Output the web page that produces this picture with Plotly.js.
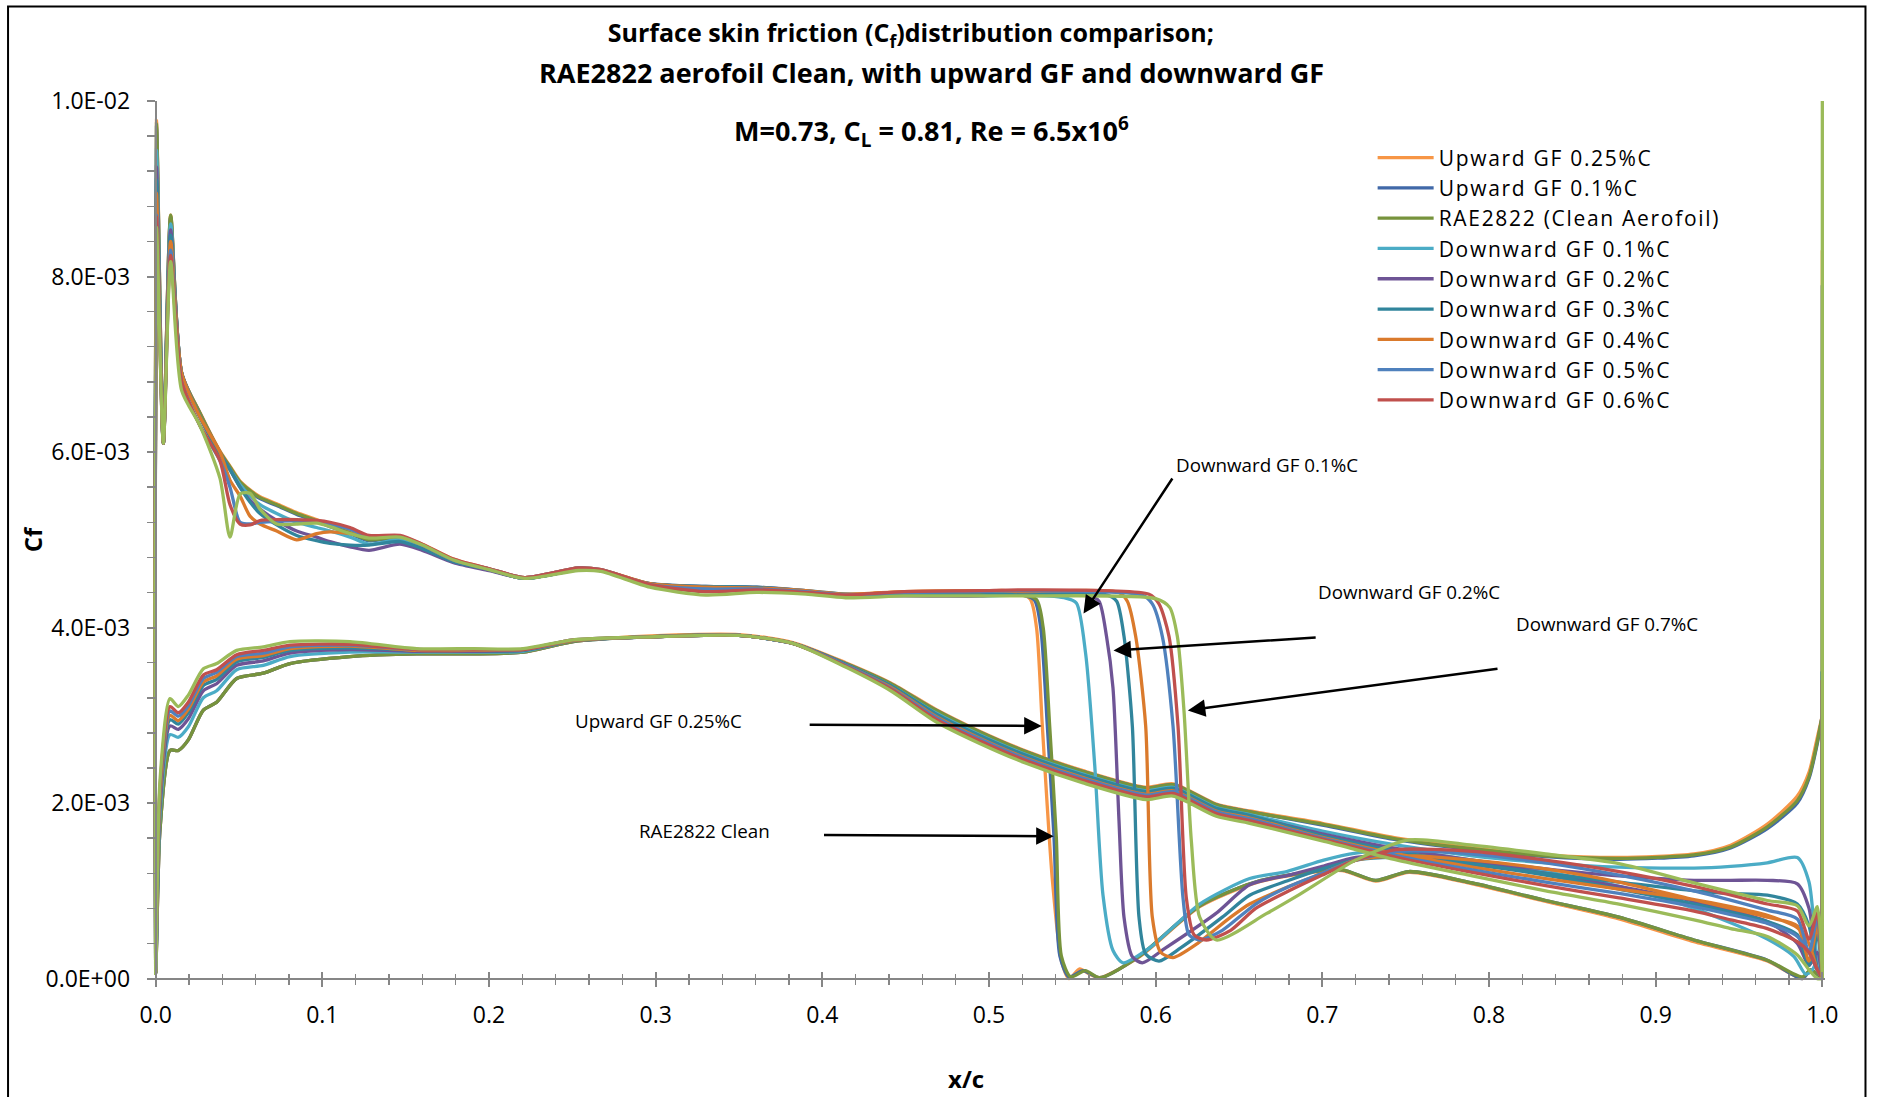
<!DOCTYPE html>
<html>
<head>
<meta charset="utf-8">
<script src="https://cdn.plot.ly/plotly-3.0.1.min.js"></script>
<style>
html,body{margin:0;padding:0;background:#fff;}
#chart{width:1878px;height:1097px;}
#chart .legendtext{letter-spacing:1.7px;}
#chart .legend .scrollbox{clip-path:none !important;}
</style>
</head>
<body>
<div id="chart"></div>
<script>
// ---------------- DATA ----------------
const SERIES_NAMES = ["Upward GF 0.25%C","Upward GF 0.1%C","RAE2822 (Clean Aerofoil)","Downward GF 0.1%C","Downward GF 0.2%C","Downward GF 0.3%C","Downward GF 0.4%C","Downward GF 0.5%C","Downward GF 0.6%C","Downward GF 0.7%C"];

// upper surface, leading-edge part (shared x stations)
const UX_FRONT = [0.0005,0.0046,0.009,0.0156,0.0266,0.0386,0.0446,0.0506,0.0566,0.0626,0.0726,0.0846,0.0966,0.1046,0.1166,0.128,0.1466,0.16,0.1787,0.2,0.2215,0.2537,0.2671,0.2965,0.33,0.3607,0.39,0.414,0.449,0.4944];
const upFront_U025  = [0.00978,0.0061,0.0087,0.0069,0.00645,0.00601,0.00584,0.00567,0.00557,0.00549,0.00541,0.00531,0.00523,0.00517,0.00509,0.00501,0.00504,0.00495,0.00478,0.00467,0.00457,0.00468,0.00466,0.0045,0.00444,0.00444,0.00441,0.00437,0.00441,0.00441];
const upFront_U01   = [0.0097,0.0061,0.00868,0.0069,0.00644,0.006,0.00582,0.00565,0.00555,0.00547,0.00539,0.00529,0.00521,0.00515,0.00507,0.00499,0.00502,0.00493,0.00476,0.00466,0.00456,0.00466,0.00465,0.00449,0.00444,0.00443,0.0044,0.00436,0.0044,0.0044];
const upFront_Clean = [0.00974,0.0061,0.0087,0.0069,0.00644,0.006,0.00583,0.00566,0.00556,0.00548,0.0054,0.0053,0.00522,0.00516,0.00508,0.005,0.00503,0.00494,0.00477,0.00466,0.00456,0.00467,0.00465,0.00448,0.00441,0.00443,0.0044,0.00436,0.0044,0.0044];
const upFront_D01   = [0.00944,0.0061,0.0086,0.0069,0.0064,0.00598,0.0058,0.00563,0.0055,0.0054,0.0053,0.0052,0.00514,0.0051,0.00503,0.00495,0.005,0.0049,0.00475,0.00466,0.00456,0.00466,0.00465,0.0045,0.00446,0.00445,0.00441,0.00438,0.00438,0.00436];
const upFront_D02   = [0.00925,0.0061,0.00853,0.0069,0.0064,0.00598,0.0058,0.0056,0.00545,0.00535,0.00522,0.0051,0.00503,0.00498,0.00492,0.00488,0.00495,0.00488,0.00474,0.00465,0.00456,0.00466,0.00465,0.0045,0.00447,0.00446,0.00442,0.00437,0.00436,0.00436];
const upFront_D03   = [0.0091,0.0061,0.00847,0.0069,0.0064,0.00598,0.0058,0.0056,0.00543,0.0053,0.00517,0.00505,0.00499,0.00496,0.00494,0.00494,0.00498,0.0049,0.00475,0.00466,0.00456,0.00466,0.00465,0.0045,0.00447,0.00446,0.00442,0.00438,0.00438,0.00437];
const upFront_D04   = [0.00895,0.0061,0.0084,0.0069,0.0064,0.006,0.00568,0.0055,0.00527,0.00518,0.0051,0.005,0.00507,0.00509,0.00507,0.00503,0.00504,0.00494,0.00477,0.00467,0.00457,0.00468,0.00466,0.0045,0.00446,0.00445,0.00442,0.00438,0.00441,0.00442];
const upFront_D05   = [0.0087,0.0061,0.0083,0.0068,0.0063,0.0059,0.0056,0.0052,0.00518,0.0052,0.00521,0.00522,0.00521,0.00518,0.00512,0.00504,0.00504,0.00494,0.00477,0.00467,0.00457,0.00468,0.00466,0.00449,0.00444,0.00444,0.00441,0.00437,0.0044,0.00441];
const upFront_D06   = [0.00868,0.0061,0.00824,0.0068,0.0063,0.0059,0.0054,0.00518,0.00517,0.00522,0.00523,0.00523,0.00522,0.0052,0.00514,0.00505,0.00505,0.00495,0.00478,0.00467,0.00457,0.00468,0.00466,0.00449,0.00441,0.00443,0.0044,0.00437,0.00441,0.00442];
const upFront_D07   = [0.00856,0.0061,0.00817,0.0067,0.0063,0.0057,0.00503,0.00552,0.00553,0.00535,0.00518,0.00518,0.00519,0.00515,0.00507,0.00502,0.00503,0.00494,0.00477,0.00466,0.00456,0.00465,0.00464,0.00446,0.00437,0.0044,0.00438,0.00434,0.00436,0.00436];

// upper surface, shock and aft part
const upAftX_U025 = [0.51,0.5245,0.5285,0.532,0.538,0.5435,0.548,0.5544,0.5604,0.5664,0.5904,0.6264,0.658,0.6864,0.712,0.732,0.752,0.79,0.834,0.878,0.923,0.967,0.988,0.993,0.997];
const upAftY_U025 = [0.00442,0.00433,0.004,0.00288,0.00113,0.0002,0.0,0.00011,0.00005,0.00001,0.00025,0.00082,0.00108,0.00119,0.00123,0.00111,0.00121,0.00108,0.00088,0.00068,0.00042,0.0002,0.0,0.0001,0.00005];
const upAftX_U01 = [0.511,0.527,0.531,0.535,0.539,0.5425,0.548,0.5564,0.5664,0.5904,0.6264,0.658,0.6864,0.712,0.732,0.752,0.79,0.834,0.878,0.923,0.967,0.988,0.993,0.997];
const upAftY_U01 = [0.0044,0.00432,0.004,0.00288,0.00161,0.00026,0.00002,0.00009,0.00001,0.00026,0.00083,0.00109,0.0012,0.00124,0.00112,0.00122,0.00109,0.00089,0.0007,0.00044,0.00021,0.0,0.0001,0.00005];
const upAftX_Clean = [0.512,0.5284,0.5325,0.5364,0.5404,0.5434,0.549,0.5578,0.5664,0.5904,0.6264,0.658,0.6864,0.712,0.732,0.752,0.79,0.834,0.878,0.923,0.967,0.988,0.993,0.997];
const upAftY_Clean = [0.00441,0.00432,0.004,0.00288,0.00161,0.00026,0.00002,0.00009,0.00001,0.00026,0.00083,0.00109,0.0012,0.00124,0.00112,0.00122,0.00109,0.00089,0.0007,0.00044,0.00021,0.00002,0.0001,0.00005];
const upAftX_D01 = [0.52,0.545,0.5524,0.558,0.5634,0.5684,0.5744,0.5804,0.5964,0.6264,0.6564,0.6786,0.7008,0.72,0.745,0.79,0.834,0.878,0.923,0.967,0.983,0.99,0.994,0.997];
const upAftY_D01 = [0.00437,0.00434,0.00428,0.0037,0.00244,0.00095,0.00032,0.00018,0.00035,0.00085,0.00114,0.00122,0.00135,0.00143,0.00146,0.00135,0.00122,0.00105,0.0008,0.00045,0.00025,0.00005,0.0001,0.0002];
const upAftX_D02 = [0.52,0.56,0.566,0.5705,0.5744,0.578,0.581,0.586,0.592,0.606,0.636,0.6564,0.68,0.7,0.72,0.745,0.79,0.834,0.878,0.923,0.967,0.985,0.992,0.997];
const upAftY_D02 = [0.00438,0.00436,0.0043,0.0039,0.00331,0.0018,0.0007,0.00025,0.00018,0.00035,0.00074,0.00107,0.00118,0.00128,0.00138,0.0014,0.00132,0.0012,0.00105,0.00088,0.00065,0.0004,0.00015,0.0003];
const upAftX_D03 = [0.52,0.571,0.5766,0.581,0.586,0.59,0.594,0.602,0.615,0.64,0.6564,0.68,0.7,0.72,0.745,0.79,0.834,0.878,0.923,0.967,0.985,0.992,0.997];
const upAftY_D03 = [0.00439,0.00437,0.0043,0.0039,0.00288,0.0007,0.00028,0.0002,0.00035,0.0007,0.00095,0.00112,0.00125,0.00135,0.00138,0.0013,0.00118,0.00102,0.00085,0.00065,0.0005,0.00015,0.0005];
const upAftX_D04 = [0.52,0.578,0.583,0.588,0.594,0.598,0.603,0.6104,0.625,0.645,0.6564,0.68,0.7,0.72,0.745,0.79,0.834,0.878,0.923,0.967,0.985,0.992,0.997];
const upAftY_D04 = [0.00441,0.0044,0.0043,0.0039,0.00288,0.0007,0.0003,0.00024,0.0004,0.0007,0.00085,0.00105,0.0012,0.00135,0.0014,0.00135,0.00125,0.0011,0.0009,0.0007,0.0006,0.0002,0.0006];
const upAftX_D05 = [0.52,0.592,0.598,0.604,0.6104,0.6164,0.62,0.6264,0.64,0.66,0.68,0.7,0.72,0.745,0.79,0.834,0.878,0.923,0.967,0.985,0.992,0.997];
const upAftY_D05 = [0.00442,0.00437,0.00427,0.0039,0.00288,0.00092,0.0005,0.00044,0.00055,0.00085,0.00105,0.0012,0.00135,0.00145,0.00142,0.00132,0.00118,0.001,0.00078,0.00068,0.0003,0.0007];
const upAftX_D06 = [0.52,0.596,0.602,0.608,0.6134,0.6184,0.623,0.6304,0.645,0.66,0.68,0.7,0.72,0.745,0.79,0.834,0.878,0.923,0.967,0.985,0.992,0.997];
const upAftY_D06 = [0.00443,0.00438,0.00427,0.0039,0.00288,0.00092,0.0005,0.00044,0.00055,0.0008,0.001,0.00118,0.00135,0.00147,0.00145,0.00135,0.00122,0.00105,0.00085,0.00077,0.00045,0.00075];
const upAftX_D07 = [0.52,0.6,0.6084,0.613,0.617,0.6214,0.6264,0.6364,0.6664,0.6864,0.72,0.752,0.79,0.834,0.878,0.923,0.967,0.985,0.992,0.997];
const upAftY_D07 = [0.00436,0.00433,0.00423,0.0039,0.00305,0.00157,0.0007,0.00044,0.00074,0.00096,0.00135,0.00158,0.00152,0.00142,0.00131,0.00109,0.00089,0.00083,0.0006,0.00082];

// lower surface (shared x stations)
const LO_X = [0.0,0.0026,0.0086,0.0136,0.0196,0.0286,0.0366,0.0486,0.0646,0.0806,0.1166,0.1566,0.1905,0.2205,0.2505,0.2905,0.35,0.3823,0.414,0.441,0.4679,0.4944,0.5214,0.5564,0.5944,0.6104,0.6364,0.6564,0.7,0.745,0.79,0.834,0.878,0.923,0.945,0.967,0.985,0.992,0.997,1.0];
const lo_U025  = [0.00006,0.0017,0.0026,0.0026,0.00272,0.00306,0.00315,0.00342,0.00348,0.00359,0.00367,0.0037,0.0037,0.00372,0.00384,0.0039,0.00392,0.00383,0.0036,0.00337,0.00307,0.00282,0.0026,0.00237,0.00218,0.00222,0.00199,0.00191,0.00177,0.0016,0.00149,0.00141,0.00138,0.00142,0.00152,0.00176,0.00208,0.00235,0.00275,0.003];
const lo_U01   = [0.00006,0.0017,0.0026,0.0026,0.00272,0.00306,0.00315,0.00342,0.00348,0.00359,0.00367,0.0037,0.0037,0.00372,0.00384,0.00389,0.00391,0.00382,0.00359,0.00336,0.00306,0.00281,0.00259,0.00236,0.00217,0.00221,0.00198,0.0019,0.00175,0.00158,0.00147,0.00139,0.00136,0.0014,0.00149,0.00171,0.002,0.00228,0.00268,0.003];
const lo_Clean = [0.00006,0.0017,0.0026,0.0026,0.00272,0.00306,0.00315,0.00342,0.00348,0.00359,0.00367,0.0037,0.0037,0.00372,0.00384,0.00389,0.00391,0.00382,0.00359,0.00336,0.00306,0.00281,0.00259,0.00236,0.00217,0.00221,0.00198,0.0019,0.00176,0.00159,0.00148,0.0014,0.00137,0.00141,0.0015,0.00173,0.00203,0.0023,0.0027,0.003];
const lo_D01   = [0.00006,0.00187,0.00278,0.00275,0.00287,0.0032,0.00328,0.00352,0.00357,0.00367,0.00372,0.00372,0.00372,0.00373,0.00385,0.00389,0.00391,0.00382,0.00358,0.00334,0.00303,0.00278,0.00256,0.00233,0.00214,0.00218,0.00195,0.00187,0.00168,0.00152,0.0014,0.00132,0.00127,0.00126,0.00128,0.00132,0.00138,0.0011,0.0002,0.0];
const lo_D02   = [0.00006,0.00196,0.00288,0.00284,0.00296,0.00328,0.00336,0.00357,0.00362,0.00371,0.00375,0.00373,0.00373,0.00374,0.00385,0.00389,0.00391,0.00382,0.00358,0.00333,0.00301,0.00276,0.00254,0.00231,0.00212,0.00216,0.00193,0.00185,0.00165,0.00148,0.00135,0.00125,0.00117,0.00112,0.00112,0.00112,0.00108,0.0008,0.0001,0.0];
const lo_D03   = [0.00006,0.00204,0.00295,0.0029,0.00303,0.00334,0.00341,0.00361,0.00366,0.00374,0.00377,0.00374,0.00374,0.00374,0.00385,0.00389,0.00391,0.00382,0.00358,0.00334,0.00302,0.00277,0.00255,0.00232,0.00213,0.00217,0.00194,0.00186,0.00163,0.00145,0.00131,0.0012,0.0011,0.001,0.00097,0.00095,0.00085,0.0006,0.0001,0.0];
const lo_D04   = [0.00006,0.00208,0.003,0.00294,0.00307,0.00338,0.00345,0.00364,0.00368,0.00376,0.00379,0.00374,0.00374,0.00375,0.00385,0.00389,0.00391,0.00382,0.00357,0.00332,0.00299,0.00274,0.00252,0.00229,0.0021,0.00214,0.00191,0.00183,0.00161,0.00142,0.00127,0.00114,0.00102,0.0009,0.00082,0.00072,0.00058,0.0004,0.0001,0.0];
const lo_D05   = [0.0001,0.00213,0.00305,0.00299,0.00311,0.00342,0.00349,0.00367,0.00371,0.00378,0.0038,0.00375,0.00375,0.00375,0.00386,0.00389,0.00391,0.00382,0.00357,0.00331,0.00298,0.00273,0.00251,0.00228,0.00209,0.00213,0.0019,0.00182,0.0016,0.0014,0.00124,0.0011,0.00097,0.00082,0.00073,0.00063,0.00048,0.0003,0.0001,0.0];
const lo_D06   = [0.0003,0.00218,0.0031,0.00303,0.00315,0.00346,0.00352,0.00369,0.00374,0.0038,0.00381,0.00375,0.00375,0.00375,0.00386,0.00389,0.00391,0.00382,0.00356,0.0033,0.00296,0.00271,0.00249,0.00226,0.00207,0.00211,0.00188,0.0018,0.00159,0.00138,0.00121,0.00106,0.00092,0.00077,0.00067,0.00057,0.00042,0.0003,0.0001,0.0];
const lo_D07   = [0.00006,0.00226,0.00319,0.0031,0.00323,0.00353,0.00359,0.00374,0.00378,0.00384,0.00384,0.00376,0.00376,0.00376,0.00386,0.00389,0.00391,0.00382,0.00355,0.00328,0.00293,0.00268,0.00246,0.00223,0.00204,0.00208,0.00185,0.00177,0.00157,0.00135,0.00117,0.001,0.00085,0.00067,0.00057,0.00048,0.00027,0.0001,0.0,0.0];

// trailing-edge closing value at x/c = 1
const TE_SPIKE = [0.0083,0.0079,0.0058,0.0035,0.0035,0.0035,0.0034,0.0034,0.0034,0.01];

// tick labels
const Y_TICKS = [0,0.002,0.004,0.006,0.008,0.01];
const Y_TICKTEXT = ["0.0E+00","2.0E-03","4.0E-03","6.0E-03","8.0E-03","1.0E-02"];
const X_TICKS = [0,0.1,0.2,0.3,0.4,0.5,0.6,0.7,0.8,0.9,1.0];
const X_TICKTEXT = ["0.0","0.1","0.2","0.3","0.4","0.5","0.6","0.7","0.8","0.9","1.0"];

// ---------------- STYLE ----------------
const COLORS = ["#F79646","#4169A8","#77933C","#4BACC6","#6E5495","#31859C","#DA7A2C","#4F81BD","#C0504D","#9BBB59"];
const FONT = "Open Sans, Lato, sans-serif";
const AXC = "#868686";

// plot-area geometry (pixels)
const W = 1878, H = 1097;
const X_RANGE = [-0.0016, 1.0016], Y_RANGE = [-0.00005, 0.01];
const ML = 153, MR = 52.5, MT = 100.6, MB = 114.1;
const PW = W - ML - MR, PH = H - MT - MB;
const px2x = px => (px - ML) / PW;          // pixel -> paper x
const py2y = py => (H - MB - py) / PH;      // pixel -> paper y
const yAxisPos = (0 - X_RANGE[0]) / (X_RANGE[1] - X_RANGE[0]);
const xAxisPos = (0 - Y_RANGE[0]) / (Y_RANGE[1] - Y_RANGE[0]);

const upFronts = [upFront_U025,upFront_U01,upFront_Clean,upFront_D01,upFront_D02,upFront_D03,upFront_D04,upFront_D05,upFront_D06,upFront_D07];
const upAftXs = [upAftX_U025,upAftX_U01,upAftX_Clean,upAftX_D01,upAftX_D02,upAftX_D03,upAftX_D04,upAftX_D05,upAftX_D06,upAftX_D07];
const upAftYs = [upAftY_U025,upAftY_U01,upAftY_Clean,upAftY_D01,upAftY_D02,upAftY_D03,upAftY_D04,upAftY_D05,upAftY_D06,upAftY_D07];
const lows = [lo_U025,lo_U01,lo_Clean,lo_D01,lo_D02,lo_D03,lo_D04,lo_D05,lo_D06,lo_D07];

const traces = SERIES_NAMES.map((name, i) => {
  const ux = UX_FRONT.concat(upAftXs[i]);
  const uy = upFronts[i].concat(upAftYs[i]);
  // TE closing segment (repeated end points keep the vertical straight), upper TE->LE, lower LE->TE
  const x = [1.0, 1.0, 1.0, 1.0].concat(ux.slice().reverse(), LO_X);
  const y = [TE_SPIKE[i], TE_SPIKE[i], 0.0, 0.0].concat(uy.slice().reverse(), lows[i]);
  return {
    type: "scatter", mode: "lines", name: name, x: x, y: y,
    line: {color: COLORS[i], width: 3.3, shape: "spline", smoothing: 0.7, simplify: false},
    showlegend: i < 9, hoverinfo: "skip"
  };
});
// overlay axis carrying the inward half of the crossing ticks
traces.push({type:"scatter", x:[0], y:[0], xaxis:"x2", yaxis:"y", mode:"markers", marker:{opacity:0}, showlegend:false, hoverinfo:"skip"});

function ann(text, x, y, size){ return {text:text, x:x, y:y, xref:"x", yref:"y", showarrow:false, font:{family:FONT, size:size, color:"#000"}}; }
function arrow(x, y, ax, ay){ return {text:"", x:x, y:y, ax:ax, ay:ay, xref:"x", yref:"y", axref:"x", ayref:"y", showarrow:true, arrowhead:2, arrowsize:1.4, arrowwidth:2.5, arrowcolor:"#000"}; }
function ptext(text, px, py, size, angle){ return {text:text, xref:"paper", yref:"paper", x:px2x(px), y:py2y(py), xanchor:"center", yanchor:"middle", textangle:angle||0, showarrow:false, font:{family:FONT, size:size, color:"#000"}}; }

const xCommon = {range:X_RANGE, anchor:"free", position:xAxisPos, tickwidth:2, tickcolor:AXC, tickmode:"array", tickvals:X_TICKS,
                 showgrid:false, zeroline:false, automargin:false};

const layout = {
  width: W, height: H,
  margin: {l:ML, r:MR, t:MT, b:MB},
  paper_bgcolor: "#fff", plot_bgcolor: "#fff",
  font: {family: FONT, color: "#000"},
  title: {text: "<b>Surface skin friction (C<sub>f</sub>)distribution comparison;</b>", font:{family:FONT, size:25, color:"#000"},
          x: px2x(911), xref: "paper", xanchor: "center", y: 1 - 33.5/H, yref: "container", yanchor: "middle"},
  showlegend: true,
  legend: {x: px2x(1373), y: py2y(137), xanchor: "left", yanchor: "top", bgcolor: "rgba(0,0,0,0)",
           font: {family: FONT, size: 21, color: "#000"}, itemwidth: 56, tracegroupgap: 0},
  xaxis: Object.assign({}, xCommon, {showline:true, linecolor:AXC, linewidth:2, ticks:"outside", ticklen:7,
          ticktext:X_TICKTEXT, tickfont:{family:FONT, size:23, color:"#000"}, ticklabelstandoff: 9,
          minor:{tickmode:"linear", tick0:0, dtick:0.02, ticks:"outside", ticklen:5, tickwidth:1.5, tickcolor:AXC}}),
  xaxis2: Object.assign({}, xCommon, {overlaying:"x", side:"bottom", showline:false, ticks:"inside", ticklen:7, showticklabels:false,
          minor:{tickmode:"linear", tick0:0, dtick:0.02, ticks:"inside", ticklen:5, tickwidth:1.5, tickcolor:AXC}}),
  yaxis: {range:Y_RANGE, anchor:"free", position:yAxisPos, showline:true, linecolor:AXC, linewidth:2, ticks:"outside", ticklen:8, tickwidth:2, tickcolor:AXC,
          tickmode:"array", tickvals:Y_TICKS, ticktext:Y_TICKTEXT, tickfont:{family:FONT, size:23, color:"#000"},
          minor:{tickmode:"linear", tick0:0, dtick:0.0004, ticks:"outside", ticklen:8, tickwidth:1.5, tickcolor:AXC},
          showgrid:false, zeroline:false, automargin:false, ticklabelstandoff: 12},
  annotations: [
    ptext("<b>RAE2822 aerofoil Clean, with upward GF and downward GF</b>", 932, 72, 27),
    ptext("<b>M=0.73, C<sub>L</sub> = 0.81, Re = 6.5x10<sup>6</sup></b>", 932, 131, 27),
    ptext("<b>x/c</b>", 966, 1078, 24),
    ptext("<b>Cf</b>", 32, 539, 24, -90),
    ann("Downward GF 0.1%C", 0.6667, 0.005853, 18.8),
    ann("Downward GF 0.2%C", 0.7522, 0.004406, 18.8),
    ann("Downward GF 0.7%C", 0.8707, 0.004038, 18.8),
    ann("Upward GF 0.25%C", 0.3017, 0.002933, 18.8),
    ann("RAE2822 Clean", 0.3290, 0.001678, 18.8),
    arrow(0.5567, 0.004161, 0.6106, 0.005716),
    arrow(0.5747, 0.003738, 0.6969, 0.003888),
    arrow(0.6193, 0.003056, 0.8060, 0.003533),
    arrow(0.5316, 0.002879, 0.3915, 0.002892),
    arrow(0.5388, 0.001623, 0.4001, 0.001637)
  ],
  shapes: [
    {type:"rect", xref:"paper", yref:"paper", x0:px2x(8), x1:px2x(1866), y0:py2y(1102), y1:py2y(6), line:{color:"#000", width:2}, fillcolor:"rgba(0,0,0,0)"}
  ]
};

Plotly.newPlot("chart", traces, layout, {displayModeBar:false, staticPlot:true});
</script>
</body>
</html>
